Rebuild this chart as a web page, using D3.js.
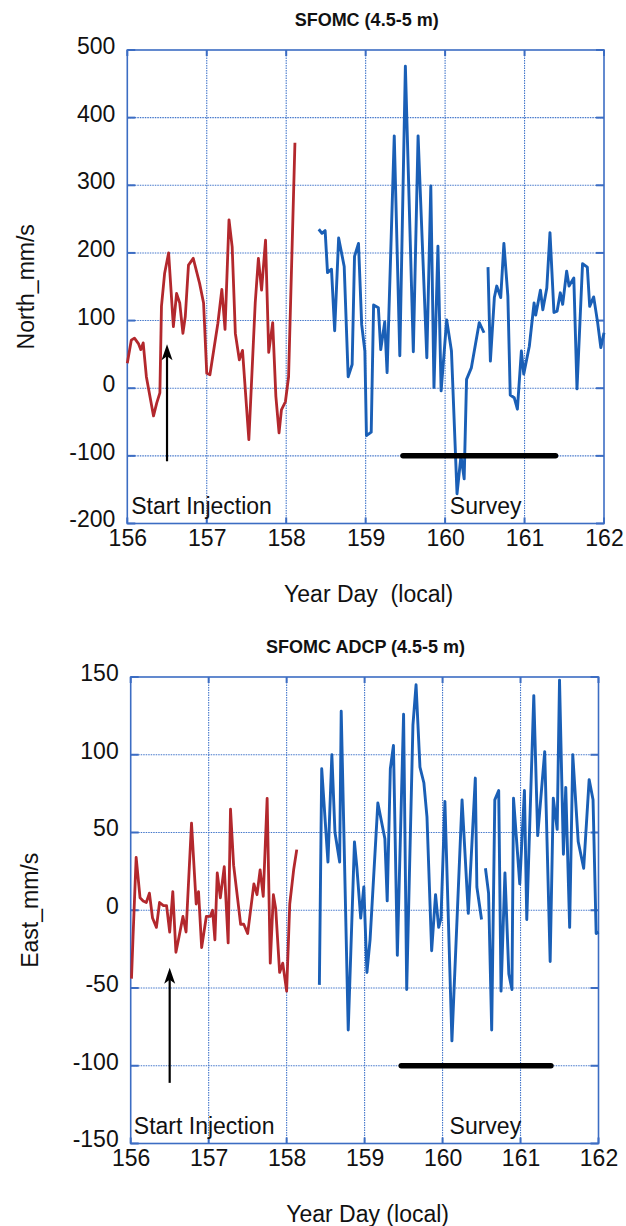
<!DOCTYPE html>
<html>
<head>
<meta charset="utf-8">
<script src="https://cdn.jsdelivr.net/npm/d3@7"></script>
<style>
  body { margin: 0; background: #fff; }
  text { font-family: "Liberation Sans", Arial, Helvetica, sans-serif; fill: #111; }
</style>
</head>
<body>
<svg width="626" height="1226"></svg>
<script>

// ---- data ----
var days = [156, 157, 158, 159, 160, 161, 162];
var northTicks = [-200, -100, 0, 100, 200, 300, 400, 500];
var eastTicks = [-150, -100, -50, 0, 50, 100, 150];

// North component, before the injection run (red)
var northInjDay = [156.0, 156.05, 156.09, 156.14, 156.17, 156.2, 156.24, 156.33, 156.37, 156.41,
  156.43, 156.47, 156.52, 156.58, 156.62, 156.66, 156.7, 156.73, 156.77, 156.83,
  156.91, 156.96, 157.0, 157.04, 157.14, 157.19, 157.23, 157.28, 157.32, 157.36,
  157.41, 157.45, 157.53, 157.61, 157.65, 157.69, 157.74, 157.78, 157.83, 157.87,
  157.91, 157.94, 157.99, 158.03, 158.11];
var northInjVal = [37, 71, 74, 66, 57, 67, 17, -41, -22, -7,
  121, 170, 200, 91, 140, 126, 81, 106, 182, 192,
  155, 126, 22, 20, 96, 146, 87, 249, 209, 81,
  42, 56, -76, 126, 192, 145, 219, 53, 97, -12,
  -66, -32, -20, 17, 363];

// North component, ADCP record (blue); null = gap
var northAdcpDay = [158.41, 158.45, 158.49, 158.52, 158.57, 158.61, 158.66, 158.73, 158.78, 158.83,
  158.86, 158.91, 158.95, 158.99, 159.01, 159.07, 159.1, 159.16, 159.19, 159.24,
  159.27, 159.36, 159.43, 159.5, 159.6, 159.66, 159.77, 159.82, 159.86, 159.91,
  159.95, 160.02, 160.08, 160.15, 160.2, 160.24, 160.27, 160.33, 160.43, 160.49,
  160.51,
  160.54, 160.57, 160.62, 160.65, 160.7, 160.74, 160.79, 160.82, 160.87, 160.91,
  160.96, 160.99, 161.06, 161.12, 161.14, 161.2, 161.23, 161.28, 161.32, 161.37,
  161.41, 161.45, 161.48, 161.53, 161.56, 161.62, 161.66, 161.73, 161.79, 161.82,
  161.87, 161.92, 161.96, 162.0];
var northAdcpVal = [235, 229, 233, 171, 176, 85, 222, 180, 17, 35,
  195, 214, 94, 55, -70, -65, 123, 119, 57, 98,
  23, 373, 48, 476, 54, 373, 45, 299, 1, 210,
  -4, 101, 55, -156, -100, -134, 13, 30, 97, 82,
  null,
  179, 40, 134, 151, 134, 214, 136, -10, -14, -31,
  55, 21, 62, 126, 108, 145, 116, 148, 230, 112,
  114, 141, 124, 173, 151, 163, -1, 184, 179, 121,
  135, 97, 60, 82];

// East component, before the injection run (red)
var eastInjDay = [156.01, 156.03, 156.07, 156.12, 156.16, 156.2, 156.24, 156.28, 156.33, 156.37,
  156.42, 156.46, 156.5, 156.54, 156.58, 156.62, 156.67, 156.71, 156.78, 156.84,
  156.87, 156.91, 156.97, 157.02, 157.05, 157.08, 157.11, 157.15, 157.2, 157.25,
  157.28, 157.32, 157.37, 157.41, 157.45, 157.5, 157.58, 157.62, 157.66, 157.7,
  157.75, 157.79, 157.83, 157.86, 157.91, 157.95, 158.0, 158.04, 158.09, 158.13];
var eastInjVal = [-44, -17, 34, 8, 6, 5, 11, -5, -11, 5,
  3, 3, -14, 12, -27, -17, -4, -14, 56, 4,
  12, -24, -4, -4, 0, -19, 24, 8, 28, -21,
  65, 29, 8, -9, -9, -15, 17, 10, 26, 9,
  72, -34, 10, 1, -40, -34, -52, 4, 26, 39];

// East component, ADCP record (blue); null = gap
var eastAdcpDay = [158.42, 158.45, 158.53, 158.58, 158.62, 158.68, 158.7, 158.79, 158.87, 158.9,
  158.95, 158.99, 159.03, 159.07, 159.17, 159.26, 159.29, 159.33, 159.37, 159.42,
  159.5, 159.54, 159.62, 159.66, 159.71, 159.76, 159.8, 159.86, 159.91, 159.95,
  159.98, 160.03, 160.12, 160.25, 160.33, 160.42, 160.44, 160.5,
  160.52,
  160.55, 160.59, 160.63, 160.67, 160.72, 160.75, 160.8, 160.85, 160.89, 160.91,
  160.99, 161.05, 161.08, 161.17, 161.22, 161.31, 161.38, 161.42, 161.47, 161.5,
  161.55, 161.58, 161.63, 161.67, 161.74, 161.81, 161.88, 161.93, 161.97, 162.0];
var eastAdcpVal = [-48, 91, 31, 100, 50, 31, 128, -77, 44, 28,
  -5, 15, -40, -19, 69, 46, 6, 91, 106, -29,
  126, -51, 119, 145, 92, 82, 60, -26, 10, -11,
  -5, 70, -84, 71, -2, 85, 15, -6,
  null,
  27, 11, -77, 71, 77, -52, 24, -41, -51, 72,
  17, 77, -6, 138, 48, 102, -33, 72, 52, 148,
  36, 79, -11, 100, 44, 27, 84, 71, -15, -14];

// annotations, in data units
var injectionDay = 156.5;
var northArrow = [-108, 65];
var eastArrow = [-111, -37];
var surveySpan = [159.47, 161.39];
var surveyLevel = -100;
var northLabels = [["Start Injection", 156.05, -186], ["Survey", 160.06, -186]];
var eastLabels = [["Start Injection", 156.04, -143.6], ["Survey", 160.09, -144]];

// ---- drawing ----
var svg = d3.select("svg");
var frameColor = "#3c6dc3",
    gridColor = "#4477cb",
    redColor = "#b3282d",
    blueColor = "#1a5fb6";

function drawPanel(p) {
  var x = d3.scaleLinear().domain([156, 162]).range([p.left, p.right]);
  var y = d3.scaleLinear().domain(d3.extent(p.ticks)).range([p.bottom, p.top]);
  var g = svg.append("g");

  // dotted grid
  g.selectAll(".vgrid").data(days.slice(1, -1)).enter().append("line")
      .attr("x1", d => x(d)).attr("x2", d => x(d))
      .attr("y1", p.top).attr("y2", p.bottom)
      .attr("stroke", gridColor).attr("stroke-width", 1.1)
      .attr("stroke-dasharray", "1.5,1");
  g.selectAll(".hgrid").data(p.ticks.slice(1, -1)).enter().append("line")
      .attr("y1", d => y(d)).attr("y2", d => y(d))
      .attr("x1", p.left).attr("x2", p.right)
      .attr("stroke", gridColor).attr("stroke-width", 1.1)
      .attr("stroke-dasharray", "1.5,1");

  // inward tick marks on the frame
  g.selectAll(".ltick").data(p.ticks).enter().append("line")
      .attr("x1", p.left).attr("x2", p.left + 8)
      .attr("y1", d => y(d)).attr("y2", d => y(d))
      .attr("stroke", frameColor).attr("stroke-width", 2);
  g.selectAll(".rtick").data(p.ticks).enter().append("line")
      .attr("x1", p.right).attr("x2", p.right - 8)
      .attr("y1", d => y(d)).attr("y2", d => y(d))
      .attr("stroke", frameColor).attr("stroke-width", 2);
  g.selectAll(".ttick").data(days).enter().append("line")
      .attr("x1", d => x(d)).attr("x2", d => x(d))
      .attr("y1", p.top).attr("y2", p.top + 6)
      .attr("stroke", frameColor).attr("stroke-width", 2);
  g.selectAll(".btick").data(days).enter().append("line")
      .attr("x1", d => x(d)).attr("x2", d => x(d))
      .attr("y1", p.bottom).attr("y2", p.bottom - 6)
      .attr("stroke", frameColor).attr("stroke-width", 2);

  // frame
  g.append("rect")
      .attr("x", p.left).attr("y", p.top)
      .attr("width", p.right - p.left).attr("height", p.bottom - p.top)
      .attr("fill", "none").attr("stroke", frameColor).attr("stroke-width", 1.6);

  // axes labels (plain hyphen for negatives, as in the original)
  var ya = g.append("g").attr("transform", "translate(" + p.left + ",0)")
      .call(d3.axisLeft(y).tickValues(p.ticks).tickFormat(d => String(d))
        .tickSize(0).tickPadding(12));
  ya.select(".domain").remove();
  ya.selectAll("text").attr("font-size", 23).attr("font-family", null)
      .attr("dy", "0.15em").style("fill", "#111");

  var xa = g.append("g").attr("transform", "translate(0," + p.bottom + ")")
      .call(d3.axisBottom(x).tickValues(days).tickFormat(d => String(d)).tickSize(0).tickPadding(6));
  xa.select(".domain").remove();
  xa.selectAll("text").attr("font-size", 23).attr("font-family", null).style("fill", "#111");

  // data lines
  var line = d3.line()
      .defined(d => d[1] != null)
      .x(d => x(d[0])).y(d => y(d[1]));
  g.append("path")
      .datum(d3.zip(p.injDay, p.injVal))
      .attr("d", line).attr("fill", "none")
      .attr("stroke", redColor).attr("stroke-width", 2.8).attr("stroke-linejoin", "round");
  g.append("path")
      .datum(d3.zip(p.adcpDay, p.adcpVal))
      .attr("d", line).attr("fill", "none")
      .attr("stroke", blueColor).attr("stroke-width", 2.9).attr("stroke-linejoin", "round");

  // injection arrow
  var ax = x(injectionDay), ay0 = y(p.arrow[0]), ay1 = y(p.arrow[1]);
  g.append("line")
      .attr("x1", ax).attr("x2", ax).attr("y1", ay0).attr("y2", ay1 + 10)
      .attr("stroke", "#000").attr("stroke-width", 2.2);
  g.append("path")
      .attr("d", "M" + ax + "," + ay1 + "L" + (ax - 5.5) + "," + (ay1 + 16) +
                 "L" + ax + "," + (ay1 + 12) + "L" + (ax + 5.5) + "," + (ay1 + 16) + "Z")
      .attr("fill", "#000");

  // survey bar
  g.append("line")
      .attr("x1", x(surveySpan[0])).attr("x2", x(surveySpan[1]))
      .attr("y1", y(surveyLevel)).attr("y2", y(surveyLevel))
      .attr("stroke", "#000").attr("stroke-width", 5.5).attr("stroke-linecap", "round");

  g.selectAll(".anno").data(p.labels).enter().append("text")
      .attr("x", d => x(d[1])).attr("y", d => y(d[2]))
      .attr("font-size", 23)
      .text(d => d[0]);

  // titles
  g.append("text")
      .attr("x", (p.left + p.right) / 2 + 1).attr("y", p.top - p.titleGap)
      .attr("text-anchor", "middle").attr("font-weight", "bold").attr("font-size", 18)
      .text(p.title);
  g.append("text")
      .attr("x", (p.left + p.right) / 2 + 3).attr("y", p.bottom + 78)
      .attr("text-anchor", "middle").attr("font-size", 23)
      .text(p.xTitle);
  g.append("text")
      .attr("transform", "translate(" + p.yTitleX + "," + (p.top + p.bottom) / 2 + ") rotate(-90)")
      .attr("text-anchor", "middle").attr("font-size", 23)
      .text(p.yTitle);
}

drawPanel({
  left: 127.3, right: 604, top: 50, bottom: 523.5, titleGap: 24,
  ticks: northTicks,
  injDay: northInjDay, injVal: northInjVal,
  adcpDay: northAdcpDay, adcpVal: northAdcpVal,
  arrow: northArrow, labels: northLabels,
  title: "SFOMC (4.5-5 m)", xTitle: "Year Day\u00a0\u00a0(local)", yTitle: "North_mm/s", yTitleX: 34
});

drawPanel({
  left: 130.7, right: 598.5, top: 677, bottom: 1143.5, titleGap: 24,
  ticks: eastTicks,
  injDay: eastInjDay, injVal: eastInjVal,
  adcpDay: eastAdcpDay, adcpVal: eastAdcpVal,
  arrow: eastArrow, labels: eastLabels,
  title: "SFOMC ADCP (4.5-5 m)", xTitle: "Year Day (local)", yTitle: "East_mm/s", yTitleX: 38
});

</script>
</body>
</html>
